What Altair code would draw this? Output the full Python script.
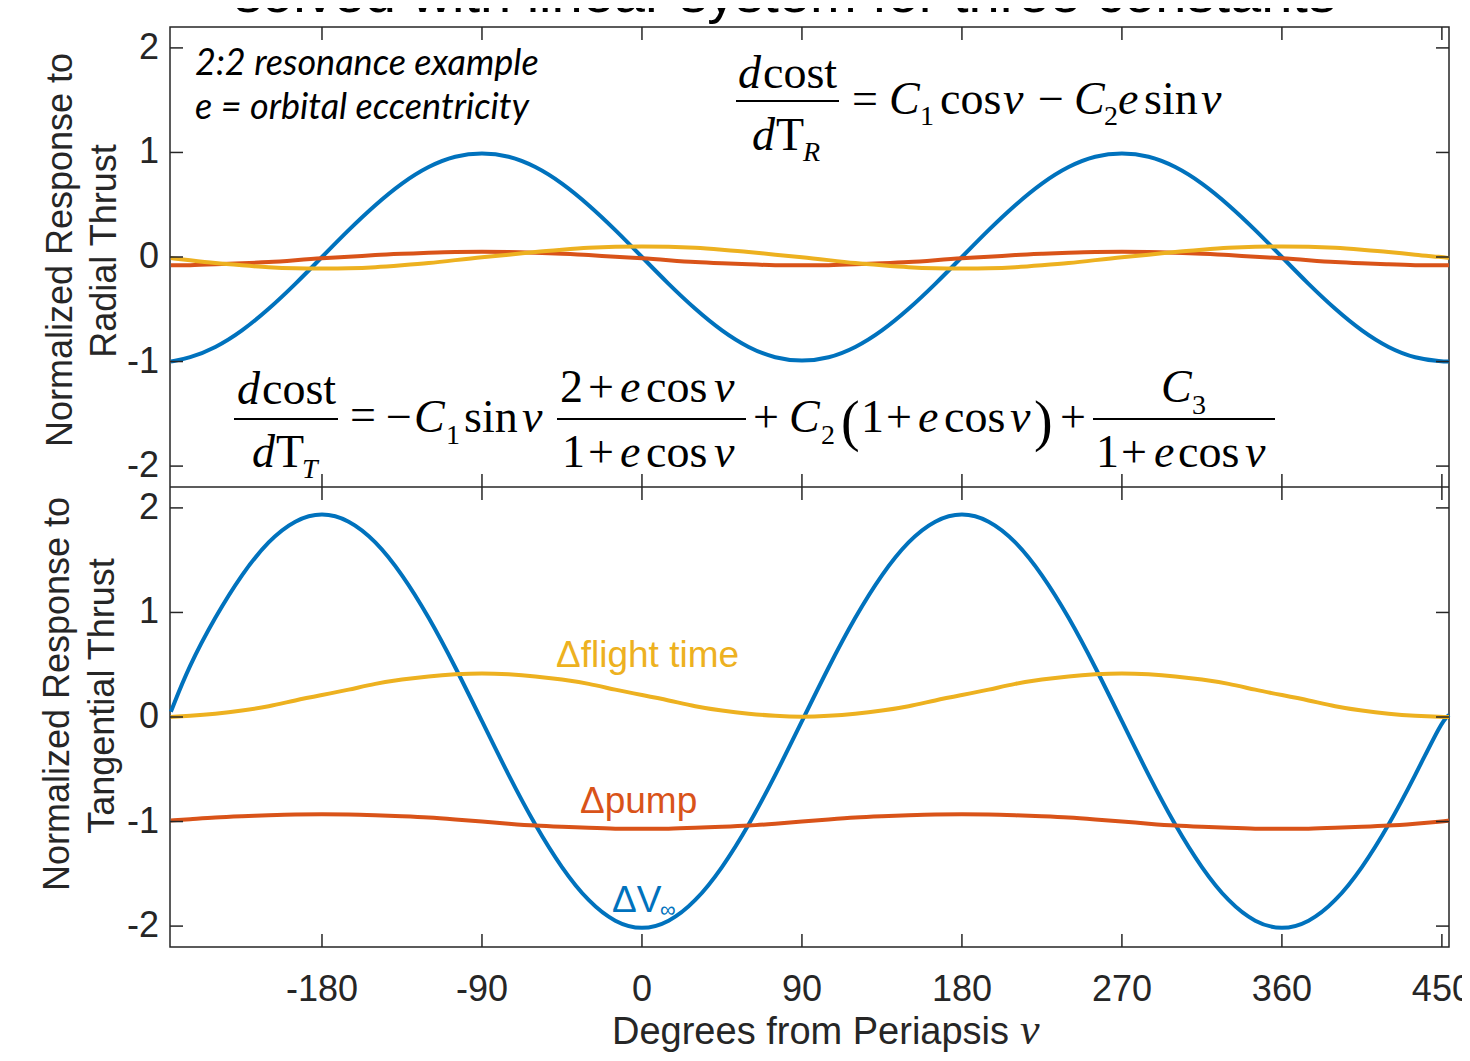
import altair as alt
import pandas as pd

# ---------------- data ----------------
nu = [-265, -255, -240, -225, -210, -195, -180, -165, -150, -135, -120, -105,
      -90, -75, -60, -45, -30, -15, 0, 15, 30, 45, 60, 75, 90, 105, 120, 135,
      150, 165, 180, 195, 210, 225, 240, 255, 270, 285, 300, 315, 330, 345,
      360, 375, 390, 405, 420, 435, 450, 454]

radial_dv = [-1.00, -0.97, -0.87, -0.71, -0.50, -0.26, 0.00, 0.26, 0.50, 0.71, 0.87, 0.97,
             1.00, 0.97, 0.87, 0.71, 0.50, 0.26, 0.00, -0.26, -0.50, -0.71, -0.87, -0.97,
             -1.00, -0.97, -0.87, -0.71, -0.50, -0.26, 0.00, 0.26, 0.50, 0.71, 0.87, 0.97,
             1.00, 0.97, 0.87, 0.71, 0.50, 0.26, 0.00, -0.26, -0.50, -0.71, -0.87, -0.97,
             -1.00, -1.00]
radial_pump = [-0.08, -0.08, -0.07, -0.06, -0.05, -0.03, -0.01, 0.00, 0.02, 0.03, 0.04, 0.05,
               0.05, 0.05, 0.04, 0.03, 0.02, 0.00, -0.01, -0.03, -0.05, -0.06, -0.07, -0.08,
               -0.08, -0.08, -0.07, -0.06, -0.05, -0.03, -0.01, 0.00, 0.02, 0.03, 0.04, 0.05,
               0.05, 0.05, 0.04, 0.03, 0.02, 0.00, -0.01, -0.03, -0.05, -0.06, -0.07, -0.08,
               -0.08, -0.08]
radial_time = [-0.01, -0.03, -0.06, -0.08, -0.10, -0.11, -0.11, -0.11, -0.10, -0.08, -0.06, -0.03,
               0.00, 0.02, 0.05, 0.07, 0.09, 0.10, 0.10, 0.10, 0.09, 0.07, 0.05, 0.02,
               0.00, -0.03, -0.06, -0.08, -0.10, -0.11, -0.11, -0.11, -0.10, -0.08, -0.06, -0.03,
               0.00, 0.02, 0.05, 0.07, 0.09, 0.10, 0.10, 0.10, 0.09, 0.07, 0.05, 0.02,
               0.00, -0.01]

tang_dv = [0.05, 0.48, 0.96, 1.37, 1.69, 1.89, 1.96, 1.89, 1.69, 1.37, 0.96, 0.48,
           -0.04, -0.56, -1.04, -1.45, -1.77, -1.97, -2.04, -1.97, -1.77, -1.45, -1.04, -0.56,
           -0.04, 0.48, 0.96, 1.37, 1.69, 1.89, 1.96, 1.89, 1.69, 1.37, 0.96, 0.48,
           -0.04, -0.56, -1.04, -1.45, -1.77, -1.97, -2.04, -1.97, -1.77, -1.45, -1.04, -0.56,
           -0.04, 0.02]
tang_pump = [-0.99, -0.98, -0.96, -0.95, -0.94, -0.93, -0.93, -0.93, -0.94, -0.95, -0.96, -0.98,
             -1.00, -1.02, -1.04, -1.05, -1.06, -1.07, -1.07, -1.07, -1.06, -1.05, -1.04, -1.02,
             -1.00, -0.98, -0.96, -0.95, -0.94, -0.93, -0.93, -0.93, -0.94, -0.95, -0.96, -0.98,
             -1.00, -1.02, -1.04, -1.05, -1.06, -1.07, -1.07, -1.07, -1.06, -1.05, -1.04, -1.02,
             -1.00, -0.99]
tang_time = [0.00, 0.01, 0.03, 0.06, 0.10, 0.16, 0.21, 0.26, 0.32, 0.36, 0.39, 0.41,
             0.42, 0.41, 0.39, 0.36, 0.32, 0.26, 0.21, 0.16, 0.10, 0.06, 0.03, 0.01,
             0.00, 0.01, 0.03, 0.06, 0.10, 0.16, 0.21, 0.26, 0.32, 0.36, 0.39, 0.41,
             0.42, 0.41, 0.39, 0.36, 0.32, 0.26, 0.21, 0.16, 0.10, 0.06, 0.03, 0.01,
             0.00, 0.00]

x_ticks = [-180, -90, 0, 90, 180, 270, 360, 450]
y_ticks = [-2, -1, 0, 1, 2]

for s in (radial_dv, radial_pump, radial_time, tang_dv, tang_pump, tang_time):
    assert len(s) == len(nu)

# ---------------- styling ----------------
BLUE, ORANGE, YELLOW, AXC = "#0072BD", "#D95319", "#EDB120", "#262626"
SANS, SERIF = "Liberation Sans", "Liberation Serif"
W, H = 1279, 460
X0, Y0 = 170, 27          # page position of the plot origin
TK = 13                   # inside tick length
EQ = 46                   # equation font size
SUB = 28                  # subscript size

xs = alt.Scale(domain=[-265.5, 454], nice=False, zero=False)
ys_top = alt.Scale(domain=[-2.2, 2.2], range=[H, 0], nice=False, zero=False)
ys_bot = alt.Scale(domain=[-2.2, 2.2], range=[2 * H, H], nice=False, zero=False)

one = pd.DataFrame({"k": [0]})


def line(vals, color, ys):
    df = pd.DataFrame({"nu": nu, "v": vals})
    return alt.Chart(df).mark_line(color=color, strokeWidth=4, interpolate="basis").encode(
        x=alt.X("nu:Q", scale=xs, axis=None),
        y=alt.Y("v:Q", scale=ys, axis=None))


def y_guides(ys):
    df = pd.DataFrame({"t": y_ticks, "lab": [str(v) for v in y_ticks]})
    base = alt.Chart(df)
    yenc = alt.Y("t:Q", scale=ys, axis=None)
    left = base.mark_rule(color=AXC, strokeWidth=1.5).encode(y=yenc, x=alt.value(0), x2=alt.value(TK))
    right = base.mark_rule(color=AXC, strokeWidth=1.5).encode(y=yenc, x=alt.value(W - TK), x2=alt.value(W))
    labels = base.mark_text(font=SANS, fontSize=36, color=AXC, align="right", baseline="middle").encode(
        y=yenc, x=alt.value(-11), text="lab:N")
    return [left, right, labels]


def x_guides():
    df = pd.DataFrame({"t": x_ticks, "lab": [str(v) for v in x_ticks]})
    xenc = alt.X("t:Q", scale=xs, axis=None)
    out = []
    for a, b in [(0, TK), (H - TK, H), (H, H + TK), (2 * H - TK, 2 * H)]:
        out.append(alt.Chart(df).mark_rule(color=AXC, strokeWidth=1.5).encode(
            x=xenc, y=alt.value(a), y2=alt.value(b)))
    out.append(alt.Chart(df).mark_text(font=SANS, fontSize=36, color=AXC, align="center",
                                       baseline="alphabetic").encode(
        x=xenc, y=alt.value(1001 - Y0), text="lab:N"))
    return out


def txt(s, px, py, size, font=SERIF, style="normal", color="black", align="left",
        angle=0, baseline="alphabetic"):
    return alt.Chart(one).mark_text(font=font, fontSize=size, fontStyle=style, color=color,
                                    align=align, baseline=baseline, angle=angle).encode(
        x=alt.value(px - X0), y=alt.value(py - Y0), text=alt.value(s))


def hbar(a, b, py):
    return alt.Chart(one).mark_rule(color="black", strokeWidth=2).encode(
        x=alt.value(a - X0), x2=alt.value(b - X0), y=alt.value(py - Y0))


# equation pieces: text, page x, page baseline y, size, italic?
TOP_EQ = [
    ("d", 738, 88, EQ, "i"), ("cost", 763, 88, EQ, "n"),
    ("d", 752, 150, EQ, "i"), ("T", 776, 150, EQ, "n"), ("R", 803, 161, SUB, "i"),
    ("=", 852, 114, EQ, "n"),
    ("C", 889, 114, EQ, "i"), ("1", 920, 125, SUB, "n"),
    ("cos", 940, 114, EQ, "n"), ("ν", 1003, 114, EQ, "i"),
    ("−", 1038, 114, EQ, "n"),
    ("C", 1074, 114, EQ, "i"), ("2", 1104, 125, SUB, "n"),
    ("e", 1118, 114, EQ, "i"), ("sin", 1144, 114, EQ, "n"), ("ν", 1201, 114, EQ, "i"),
]
TOP_BARS = [(736, 839, 101)]

LOW_EQ = [
    ("d", 237, 404, EQ, "i"), ("cost", 262, 404, EQ, "n"),
    ("d", 252, 467, EQ, "i"), ("T", 276, 467, EQ, "n"), ("T", 302, 478, SUB, "i"),
    ("=", 350, 430, EQ, "n"),
    ("−", 386, 432, EQ, "n"), ("C", 414, 432, EQ, "i"), ("1", 446, 444, SUB, "n"),
    ("sin", 464, 432, EQ, "n"), ("ν", 522, 432, EQ, "i"),
    ("2", 560, 402, EQ, "n"), ("+", 588, 402, EQ, "n"), ("e", 620, 402, EQ, "i"),
    ("cos", 646, 402, EQ, "n"), ("ν", 714, 402, EQ, "i"),
    ("1", 562, 467, EQ, "n"), ("+", 588, 467, EQ, "n"), ("e", 620, 467, EQ, "i"),
    ("cos", 646, 467, EQ, "n"), ("ν", 714, 467, EQ, "i"),
    ("+", 753, 432, EQ, "n"),
    ("C", 789, 432, EQ, "i"), ("2", 821, 444, SUB, "n"),
    ("(", 841, 440, 56, "n"), ("1", 861, 432, EQ, "n"), ("+", 886, 432, EQ, "n"),
    ("e", 918, 432, EQ, "i"), ("cos", 944, 432, EQ, "n"), ("ν", 1010, 432, EQ, "i"),
    (")", 1034, 440, 56, "n"),
    ("+", 1060, 432, EQ, "n"),
    ("C", 1161, 402, EQ, "i"), ("3", 1192, 414, SUB, "n"),
    ("1", 1096, 467, EQ, "n"), ("+", 1121, 467, EQ, "n"), ("e", 1154, 467, EQ, "i"),
    ("cos", 1178, 467, EQ, "n"), ("ν", 1245, 467, EQ, "i"),
]
LOW_BARS = [(234, 338, 419), (557, 746, 419), (1093, 1275, 419)]

# ---------------- panels ----------------
top = alt.layer(
    line(radial_dv, BLUE, ys_top),
    line(radial_pump, ORANGE, ys_top),
    line(radial_time, YELLOW, ys_top),
    *y_guides(ys_top),
)
bottom = alt.layer(
    line(tang_dv, BLUE, ys_bot),
    line(tang_pump, ORANGE, ys_bot),
    line(tang_time, YELLOW, ys_bot),
    *y_guides(ys_bot),
)

annots = []
for (s, px, py, size, st) in TOP_EQ + LOW_EQ:
    annots.append(txt(s, px, py, size, style="italic" if st == "i" else "normal"))
for (a, b, py) in TOP_BARS + LOW_BARS:
    annots.append(hbar(a, b, py))

annots += [
    txt("solved with linear system for three constants", 785, 12, 56, font=SANS, align="center"),
    txt("2:2 resonance example", 195, 75, 36, font="Lato", style="italic"),
    txt("e = orbital eccentricity", 195, 119, 36, font="Lato", style="italic"),
    txt("Δflight time", 556, 667, 37, font=SANS, color=YELLOW),
    txt("Δpump", 580, 813, 37, font=SANS, color=ORANGE),
    txt("ΔV", 612, 912, 37, font=SANS, color=BLUE),
    txt("∞", 660, 917, 22, font=SANS, color=BLUE),
    txt("Normalized Response to", 61, 250, 36, font=SANS, color=AXC, align="center",
        angle=270, baseline="middle"),
    txt("Radial Thrust", 105, 251, 36, font=SANS, color=AXC, align="center",
        angle=270, baseline="middle"),
    txt("Normalized Response to", 58, 694, 36, font=SANS, color=AXC, align="center",
        angle=270, baseline="middle"),
    txt("Tangential Thrust", 103, 696, 36, font=SANS, color=AXC, align="center",
        angle=270, baseline="middle"),
    txt("Degrees from Periapsis", 612, 1044, 38, font=SANS, color=AXC),
    txt("ν", 1020, 1044, 44, font=SERIF, style="italic", color=AXC),
]

divider = alt.Chart(one).mark_rule(color=AXC, strokeWidth=1.5).encode(
    x=alt.value(0), x2=alt.value(W), y=alt.value(H))

chart = alt.layer(top, bottom, divider, *x_guides(), *annots).resolve_scale(
    y="independent"
).properties(
    width=W, height=2 * H,
    autosize=alt.AutoSizeParams(type="none"),
    padding={"left": X0 - 8, "top": Y0 - 8, "right": 13, "bottom": 106},
).configure_view(stroke=AXC, strokeWidth=1.5)

chart.save("out.html", embed_options={"renderer": "svg", "actions": False})
